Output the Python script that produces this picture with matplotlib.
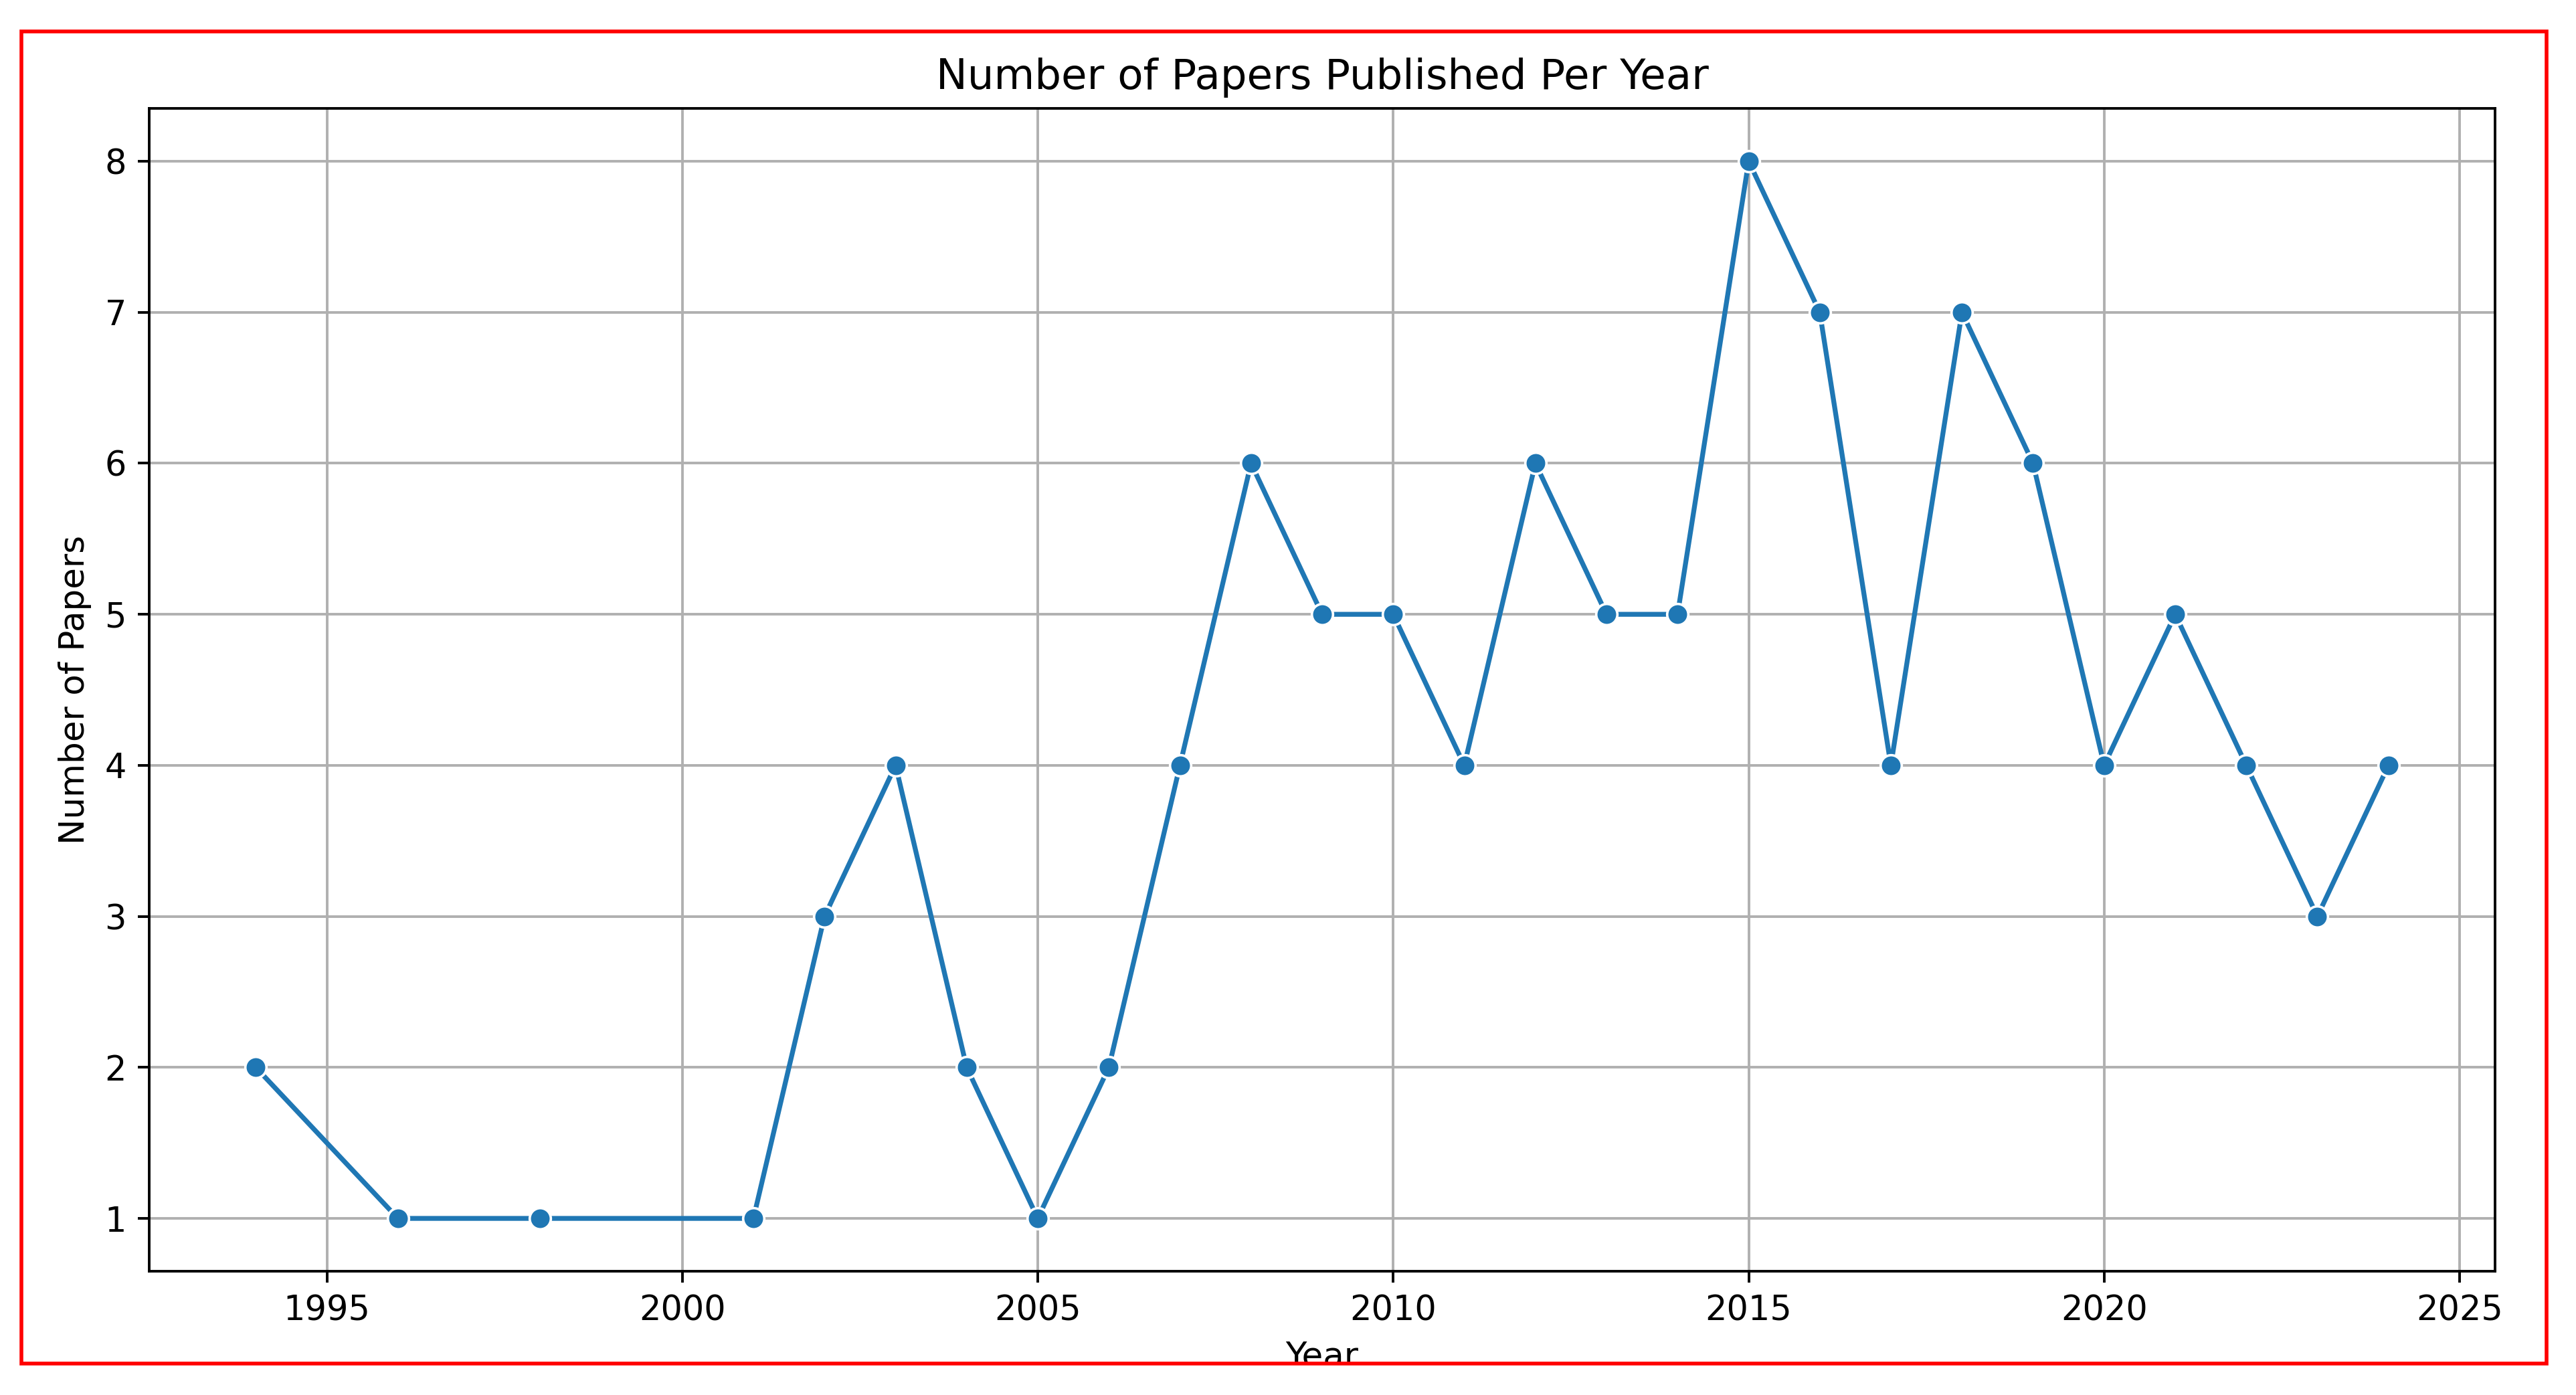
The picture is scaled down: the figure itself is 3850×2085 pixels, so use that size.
import matplotlib
matplotlib.use("Agg")
import matplotlib.pyplot as plt
from matplotlib.patches import Rectangle
import seaborn as sns

years = [1994, 1996, 1998, 2001, 2002, 2003, 2004, 2005, 2006, 2007, 2008, 2009,
         2010, 2011, 2012, 2013, 2014, 2015, 2016, 2017, 2018, 2019, 2020, 2021,
         2022, 2023, 2024]
papers = [2, 1, 1, 1, 3, 4, 2, 1, 2, 4, 6, 5,
          5, 4, 6, 5, 5, 8, 7, 4, 7, 6, 4, 5,
          4, 3, 4]

DPI = 350
plt.rcParams['xtick.labelsize'] = 10.5
plt.rcParams['ytick.labelsize'] = 10.5
plt.rcParams['axes.labelsize'] = 10.6
plt.rcParams['axes.titlesize'] = 12.9

fig = plt.figure(figsize=(3850 / DPI, 2085 / DPI), dpi=DPI)
ax = fig.add_axes([0.0579, 0.0887, 0.9686 - 0.0579, 0.9223 - 0.0887])

sns.lineplot(x=years, y=papers, marker='o', ax=ax, markersize=6.5)
ax.set_title("Number of Papers Published Per Year")
ax.set_xlabel("Year")
ax.set_ylabel("Number of Papers")
ax.grid(True)

# white mask below the frame (screenshot crop) and red frame
fig.add_artist(Rectangle((0, 0), 1, 0.0225, transform=fig.transFigure,
                         facecolor='white', edgecolor='none', zorder=10))
fig.add_artist(Rectangle((0.0083, 0.0225), 0.9803, 0.9550, transform=fig.transFigure,
                         facecolor='none', edgecolor='#ff0000', linewidth=1.15, zorder=11))

fig.savefig("out.png", dpi=DPI)
